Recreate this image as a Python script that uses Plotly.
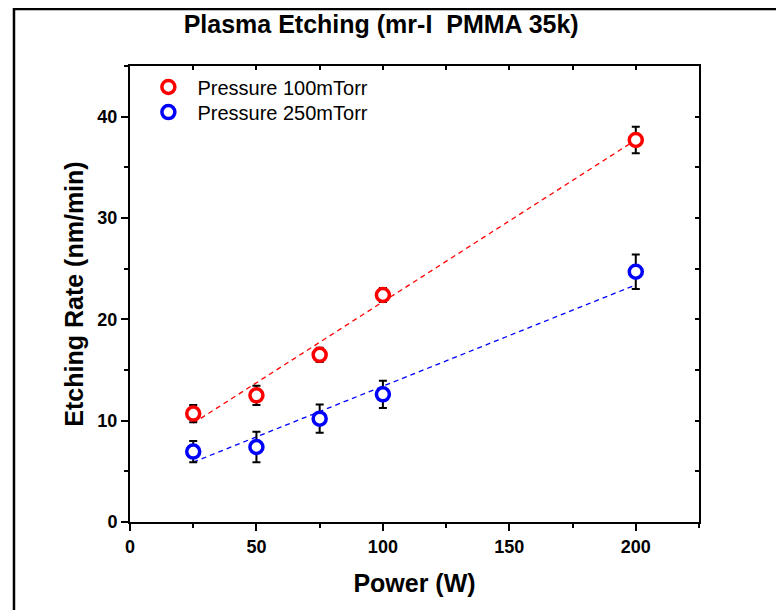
import plotly.graph_objects as go

# ---- data ----
power = [25, 50, 75, 100, 200]
rate_100 = [10.7, 12.5, 16.5, 22.4, 37.7]
err_100 = [0.85, 0.95, 0.7, 0.7, 1.3]
rate_250 = [6.95, 7.4, 10.2, 12.6, 24.7]
err_250 = [1.05, 1.5, 1.4, 1.35, 1.7]
fit_x = [25, 200]
fit_100 = [9.75, 37.7]
fit_250 = [5.9, 23.4]

RED = "#FF0000"
BLUE = "#0000FF"
FONT = "Liberation Sans, Arial, sans-serif"

fig = go.Figure()

fig.add_trace(go.Scatter(x=fit_x, y=fit_100, mode="lines", showlegend=False,
                         line=dict(color=RED, width=1.3, dash="5px,4px"), hoverinfo="skip"))
fig.add_trace(go.Scatter(x=fit_x, y=fit_250, mode="lines", showlegend=False,
                         line=dict(color=BLUE, width=1.3, dash="5px,4px"), hoverinfo="skip"))

fig.add_trace(go.Scatter(
    x=power, y=rate_100, mode="markers", name="Pressure 100mTorr", legend="legend",
    marker=dict(symbol="circle", size=13, color="white", line=dict(color=RED, width=3.5)),
    error_y=dict(type="data", array=err_100, color="black", thickness=2, width=4),
))
fig.add_trace(go.Scatter(
    x=power, y=rate_250, mode="markers", name="Pressure 250mTorr", legend="legend2",
    marker=dict(symbol="circle", size=13, color="white", line=dict(color=BLUE, width=3.5)),
    error_y=dict(type="data", array=err_250, color="black", thickness=2, width=4),
))

# empty trace to activate the mirrored (inward-tick) top/right axes
fig.add_trace(go.Scatter(x=[], y=[], xaxis="x2", yaxis="y2", showlegend=False, hoverinfo="skip"))

tickfont = dict(family=FONT, size=18, color="black", weight="bold")
legfont = dict(family=FONT, size=20, color="black")

fig.update_layout(
    width=784, height=610,
    paper_bgcolor="white", plot_bgcolor="white",
    margin=dict(l=122, r=93, t=58, b=96),
    title=dict(text="Plasma Etching (mr-I&nbsp;&nbsp;PMMA 35k)", x=0.476, xanchor="center",
               y=0.973, yanchor="middle",
               font=dict(family=FONT, size=25, color="black", weight="bold")),
    xaxis=dict(range=[0, 225], tick0=0, dtick=50, ticks="outside", ticklen=7, tickwidth=2,
               tickcolor="black", showline=True, linewidth=2, linecolor="black", mirror=True,
               showgrid=False, zeroline=False, tickfont=tickfont,
               minor=dict(dtick=25, ticks="outside", ticklen=4, tickwidth=2, tickcolor="black",
                          showgrid=False),
               title=dict(text="Power (W)", standoff=19,
                          font=dict(family=FONT, size=25, color="black", weight="bold"))),
    yaxis=dict(range=[0, 45], tick0=0, dtick=10, ticks="outside", ticklen=7, tickwidth=2,
               tickcolor="black", showline=True, linewidth=2, linecolor="black", mirror=True,
               showgrid=False, zeroline=False, tickfont=tickfont,
               minor=dict(dtick=5, ticks="outside", ticklen=4, tickwidth=2, tickcolor="black",
                          showgrid=False),
               title=dict(text="Etching Rate (nm/min)", standoff=7,
                          font=dict(family=FONT, size=25, color="black", weight="bold"))),
    xaxis2=dict(overlaying="x", side="top", range=[0, 225], tick0=0, dtick=25, ticks="inside",
                ticklen=4, tickwidth=1.5, tickcolor="black", showticklabels=False,
                showline=False, showgrid=False, zeroline=False),
    yaxis2=dict(overlaying="y", side="right", range=[0, 45], tick0=0, dtick=5, ticks="inside",
                ticklen=4, tickwidth=1.5, tickcolor="black", showticklabels=False,
                showline=False, showgrid=False, zeroline=False),
    legend=dict(x=0.0165, y=0.954, xanchor="left", yanchor="middle", bgcolor="rgba(0,0,0,0)",
                font=legfont, itemwidth=48),
    legend2=dict(x=0.0165, y=0.899, xanchor="left", yanchor="middle", bgcolor="rgba(0,0,0,0)",
                 font=legfont, itemwidth=48),
    shapes=[dict(type="path", xref="paper", yref="paper",
                 path="M -0.2039,-0.3 L -0.2039,1.125 L 1.3,1.125",
                 line=dict(color="black", width=2.5))],
)

fig.write_html("out.html")
